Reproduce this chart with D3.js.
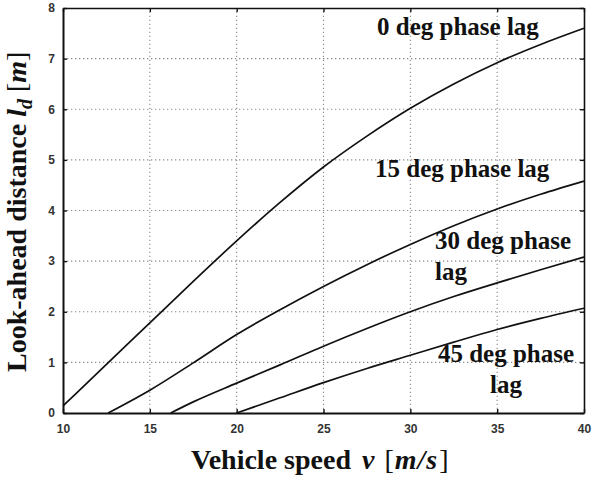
<!DOCTYPE html>
<html lang="en">
<head>
<meta charset="utf-8">
<script src="https://d3js.org/d3.v7.min.js"></script>
<style>
  body { margin: 0; background: #fff; }
</style>
</head>
<body>
<div id="chart"></div>
<script>
// speed grid (m/s) and look-ahead distance (m) per phase lag
const speeds = [10, 12.5, 15, 17.5, 20, 22.5, 25, 27.5, 30, 32.5, 35, 37.5, 40];
const lag0  = [0.14, 0.96, 1.78, 2.6, 3.4, 4.16, 4.86, 5.47, 6.02, 6.5, 6.92, 7.28, 7.6];
const lag15 = [null, null, 0.45, 0.99, 1.55, 2.04, 2.5, 2.93, 3.33, 3.7, 4.03, 4.32, 4.58];
const lag30 = [null, null, null, 0.22, 0.59, 0.95, 1.32, 1.67, 2.0, 2.3, 2.57, 2.83, 3.08];
const lag45 = [null, null, null, null, 0, 0.3, 0.6, 0.88, 1.14, 1.4, 1.65, 1.87, 2.07];
// speed where each curve leaves zero
const startSpeeds = [null, 12.6, 16.2, 20];

const xTicks = [10, 15, 20, 25, 30, 35, 40];
const yTicks = [0, 1, 2, 3, 4, 5, 6, 7, 8];

const curveLabels = [
  {lines: ["0 deg phase lag"], x: 377, y: 35, anchor: "start"},
  {lines: ["15 deg phase lag"], x: 375, y: 177, anchor: "start"},
  {lines: ["30 deg phase", "lag"], x: 435, y: 249, anchor: "start"},
  {lines: ["45 deg phase", "lag"], x: 506, y: 362, anchor: "middle"}
];

var W = 592, H = 482;
var margin = {top: 8, right: 8, bottom: 69, left: 63};

var svg = d3.select("#chart").append("svg")
    .attr("width", W)
    .attr("height", H);

var x = d3.scaleLinear().domain([10, 40]).range([margin.left, W - margin.right]);
var y = d3.scaleLinear().domain([0, 8]).range([H - margin.bottom, margin.top]);

// dotted grid
var grid = svg.append("g").attr("stroke", "#8a8a8a").attr("stroke-width", 1.1)
    .attr("stroke-dasharray", "1.3,2.7");
grid.selectAll(".vx").data(xTicks.slice(1, -1)).enter().append("line")
    .attr("x1", d => x(d)).attr("x2", d => x(d))
    .attr("y1", y(0)).attr("y2", y(8));
grid.selectAll(".hy").data(yTicks.slice(1, -1)).enter().append("line")
    .attr("x1", x(10)).attr("x2", x(40))
    .attr("y1", d => y(d)).attr("y2", d => y(d));

// curves
var series = [lag0, lag15, lag30, lag45].map(function (vals, i) {
  var pts = [];
  if (startSpeeds[i] !== null) pts.push([startSpeeds[i], 0]);
  speeds.forEach(function (s, j) {
    if (vals[j] !== null && !(startSpeeds[i] !== null && s <= startSpeeds[i] && vals[j] === 0)) pts.push([s, vals[j]]);
  });
  return pts;
});

var line = d3.line()
    .x(d => x(d[0]))
    .y(d => y(d[1]))
    .curve(d3.curveMonotoneX);

svg.append("g").selectAll("path").data(series).enter().append("path")
    .attr("d", line)
    .attr("fill", "none")
    .attr("stroke", "#111")
    .attr("stroke-width", 1.7);

// axes with inward ticks
function styleAxis(g, w) {
  g.select(".domain").attr("stroke", "#111").attr("stroke-width", w);
  g.selectAll(".tick line").attr("stroke", "#111").attr("stroke-width", 1.4);
  g.selectAll(".tick text")
    .style("font-family", "'Liberation Sans', Arial, sans-serif")
    .style("font-weight", "bold")
    .style("font-size", "12px")
    .attr("fill", "#333");
}

svg.append("g")
    .attr("transform", "translate(0," + y(0) + ")")
    .call(d3.axisBottom(x).tickValues(xTicks).tickSizeInner(-4).tickSizeOuter(0).tickPadding(11))
    .call(g => styleAxis(g, 2));

svg.append("g")
    .attr("transform", "translate(" + x(10) + ",0)")
    .call(d3.axisLeft(y).tickValues(yTicks).tickSizeInner(-4).tickSizeOuter(0).tickPadding(8))
    .call(g => styleAxis(g, 2));

svg.append("g")
    .attr("transform", "translate(0," + y(8) + ")")
    .call(d3.axisTop(x).tickValues(xTicks).tickSizeInner(-4).tickSizeOuter(0).tickFormat(""))
    .call(g => styleAxis(g, 1.6));

svg.append("g")
    .attr("transform", "translate(" + x(40) + ",0)")
    .call(d3.axisRight(y).tickValues(yTicks).tickSizeInner(-4).tickSizeOuter(0).tickFormat(""))
    .call(g => styleAxis(g, 1.6));

// curve labels
var serif = "'Liberation Serif', 'Times New Roman', serif";
curveLabels.forEach(function (lb) {
  var t = svg.append("text")
      .attr("x", lb.x).attr("y", lb.y)
      .attr("text-anchor", lb.anchor)
      .style("font-family", serif)
      .style("font-weight", "bold")
      .style("font-size", "25px")
      .attr("fill", "#111");
  lb.lines.forEach(function (s, i) {
    t.append("tspan").attr("x", lb.x).attr("dy", i === 0 ? 0 : 31).text(s);
  });
});

// x axis title
var xt = svg.append("text")
    .attr("x", 191).attr("y", 469)
    .style("font-family", serif)
    .style("font-size", "28px")
    .attr("fill", "#111");
xt.append("tspan").style("font-weight", "bold").text("Vehicle speed ");
xt.append("tspan").attr("dx", 4).style("font-style", "italic").style("font-weight", "bold").text("v");
xt.append("tspan").attr("dx", 3).text(" [");
xt.append("tspan").attr("dx", 1).style("font-style", "italic").style("font-weight", "bold").text("m");
xt.append("tspan").attr("dx", 1).style("font-style", "italic").style("font-weight", "bold").text("/");
xt.append("tspan").attr("dx", 1).style("font-style", "italic").style("font-weight", "bold").text("s");
xt.append("tspan").attr("dx", 2).text("]");

// y axis title
var yt = svg.append("text")
    .attr("transform", "translate(26,372) rotate(-90)")
    .style("font-family", serif)
    .style("font-size", "28px")
    .attr("fill", "#111");
yt.append("tspan").style("font-weight", "bold").text("Look-ahead distance ");
yt.append("tspan").style("font-style", "italic").style("font-weight", "bold").text("l");
yt.append("tspan").style("font-style", "italic").style("font-weight", "bold")
    .style("font-size", "20px").attr("dy", 6).text("d");
yt.append("tspan").attr("dy", -6).text(" [");
yt.append("tspan").style("font-style", "italic").style("font-weight", "bold").text("m");
yt.append("tspan").text("]");
</script>
</body>
</html>
